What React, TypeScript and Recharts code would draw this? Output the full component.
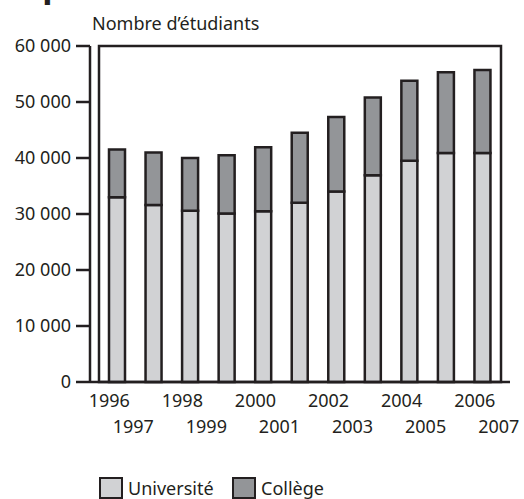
import { Bar, BarChart, ReferenceArea, XAxis, YAxis } from 'recharts';

// Années scolaires (une barre par année)
const YEARS = [
  '1996-1997', '1997-1998', '1998-1999', '1999-2000', '2000-2001', '2001-2002',
  '2002-2003', '2003-2004', '2004-2005', '2005-2006', '2006-2007',
];
const UNIVERSITE = [33000, 31600, 30600, 30100, 30500, 32000, 34000, 36900, 39500, 40900, 40900];
const COLLEGE = [8500, 9400, 9400, 10400, 11400, 12500, 13300, 13900, 14300, 14400, 14800];
const Y_TICKS = [0, 10000, 20000, 30000, 40000, 50000, 60000];

const INK = '#231f20';
const LIGHT = '#d1d2d4';
const DARK = '#939598';
const FONT = '"Noto Sans", sans-serif';

const data = YEARS.map((year, i) => ({ year, universite: UNIVERSITE[i], college: COLLEGE[i] }));

const formatThousands = (v: number) => String(v).replace(/\B(?=(\d{3})+(?!\d))/g, ' ');

function YearTick({ x, y, payload }: any) {
  const [from, to] = String(payload.value).split('-');
  return (
    <g fontFamily={FONT} fontSize={18} fill={INK}>
      <text x={x - 8} y={y + 25} textAnchor="middle">{from}</text>
      <text x={x + 16} y={y + 51} textAnchor="middle">{to}</text>
    </g>
  );
}

function LegendItem({ color, label, left }: { color: string; label: string; left: number }) {
  return (
    <div style={{ position: 'absolute', left, top: 477, display: 'flex', alignItems: 'center' }}>
      <div style={{ width: 20, height: 18, background: color, border: `2px solid ${INK}`, boxSizing: 'content-box' }} />
      <span style={{ marginLeft: 5, fontSize: 18, color: INK, lineHeight: '22px' }}>{label}</span>
    </div>
  );
}

export default function App() {
  return (
    <div style={{ position: 'absolute', top: 0, left: 0, width: 524, height: 499, background: '#fff', fontFamily: FONT, overflow: 'hidden' }}>
      <svg width={524} height={40} style={{ position: 'absolute', top: 0, left: 0 }}>
        <text x={43} y={-1} fontSize={27} fontWeight={900} fill={INK}>postsecondaires</text>
        <text x={92} y={30} fontSize={18} fill={INK}>Nombre d’étudiants</text>
      </svg>
      <BarChart
        width={524}
        height={499}
        data={data}
        margin={{ top: 46, right: 14, left: 0, bottom: 77 }}
        barSize={16}
      >
        <ReferenceArea y1={0} y2={60000} fill="none" stroke={INK} strokeWidth={2.5} fillOpacity={0} />
        <XAxis
          dataKey="year"
          height={40}
          interval={1}
          padding={{ left: 9, right: 9 }}
          tickLine={false}
          tickSize={0}
          tickMargin={0}
          tick={<YearTick />}
          axisLine={{ stroke: INK, strokeWidth: 2.5 }}
        />
        <YAxis
          width={90}
          domain={[0, 60000]}
          ticks={Y_TICKS}
          interval={0}
          tickFormatter={formatThousands}
          tickSize={14}
          tickMargin={5}
          tickLine={{ stroke: INK, strokeWidth: 2.5 }}
          axisLine={{ stroke: INK, strokeWidth: 2.5 }}
          tick={{ fontSize: 18, fill: INK, fontFamily: FONT }}
        />
        <Bar dataKey="universite" stackId="a" fill={LIGHT} stroke={INK} strokeWidth={2.5} isAnimationActive={false} />
        <Bar dataKey="college" stackId="a" fill={DARK} stroke={INK} strokeWidth={2.5} isAnimationActive={false} />
      </BarChart>
      <LegendItem color={LIGHT} label="Université" left={99} />
      <LegendItem color={DARK} label="Collège" left={232} />
    </div>
  );
}
